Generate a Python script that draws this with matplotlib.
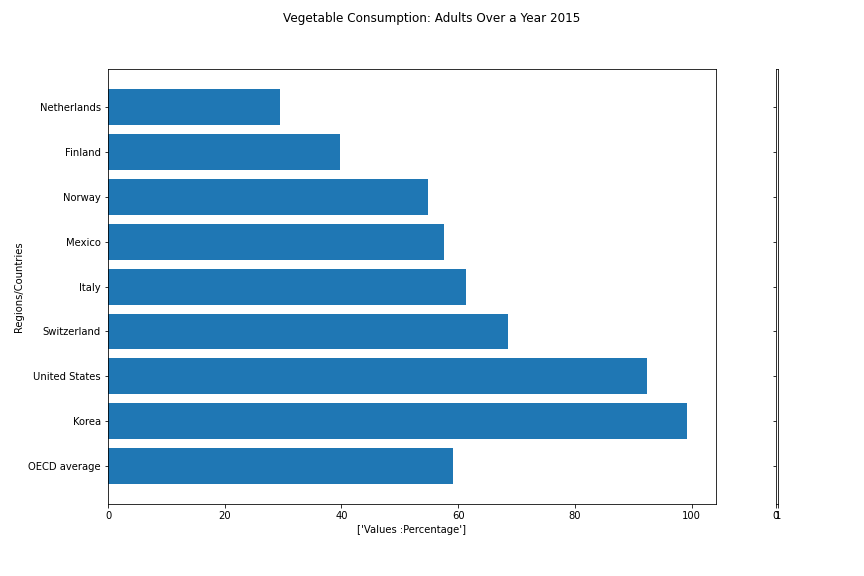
import matplotlib
matplotlib.use("Agg")
import matplotlib.pyplot as plt

countries = ["OECD average", "Korea", "United States", "Switzerland", "Italy",
             "Mexico", "Norway", "Finland", "Netherlands"]
values = [59.1, 99.2, 92.3, 68.5, 61.3, 57.6, 54.9, 39.7, 29.4]

fig = plt.figure(figsize=(12, 8), dpi=72)
ax = fig.add_axes([0.125, 0.125, 0.7037, 0.755])
ax2 = fig.add_axes([0.8981, 0.125, 0.0023, 0.755], sharey=ax)

ax.barh(countries, values, color="#1f77b4")
ax.set_xlabel("['Values :Percentage']")
ax.set_ylabel("Regions/Countries")

ax2.set_xticks([0, 1])
ax2.tick_params(axis="y", labelleft=False)

fig.suptitle("Vegetable Consumption: Adults Over a Year 2015")
fig.savefig("out.png", dpi=72)
